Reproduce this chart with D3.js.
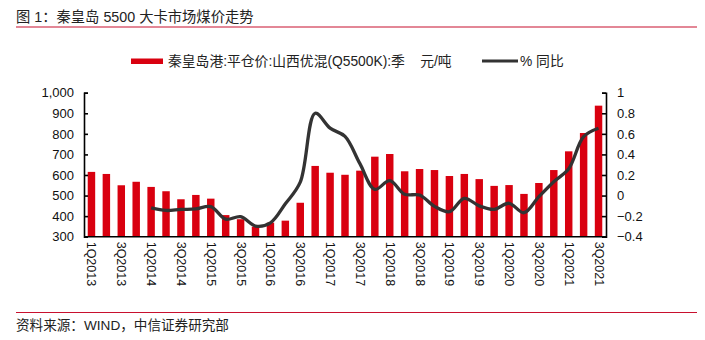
<!DOCTYPE html>
<html><head><meta charset="utf-8">
<script src="https://cdn.jsdelivr.net/npm/d3@7/dist/d3.min.js"></script>
<style>
body{margin:0;background:#fff;}
text{font-family:"Liberation Sans","Noto Sans CJK SC",sans-serif;}
</style></head>
<body><svg id="c" width="705" height="340"></svg>
<script>
const quarters = ["1Q2013","2Q2013","3Q2013","4Q2013","1Q2014","2Q2014","3Q2014","4Q2014","1Q2015","2Q2015","3Q2015","4Q2015","1Q2016","2Q2016","3Q2016","4Q2016","1Q2017","2Q2017","3Q2017","4Q2017","1Q2018","2Q2018","3Q2018","4Q2018","1Q2019","2Q2019","3Q2019","4Q2019","1Q2020","2Q2020","3Q2020","4Q2020","1Q2021","2Q2021","3Q2021"];
const price = [615,605,550,567,542,521,482,503,485,405,385,349,368,378,465,644,611,601,621,689,702,618,629,624,595,605,580,547,551,508,561,624,715,804,937];
const yoy = [null,null,null,null,-0.12,-0.145,-0.135,-0.13,-0.108,-0.23,-0.205,-0.296,-0.265,-0.08,0.13,0.80,0.655,0.575,0.31,0.06,0.145,0.012,0.005,-0.105,-0.157,-0.027,-0.10,-0.134,-0.075,-0.167,-0.011,0.135,0.26,0.572,0.654];
const xTickLabels = ["1Q2013","3Q2013","1Q2014","3Q2014","1Q2015","3Q2015","1Q2016","3Q2016","1Q2017","3Q2017","1Q2018","3Q2018","1Q2019","3Q2019","1Q2020","3Q2020","1Q2021","3Q2021"];
const leftTicks = [300,400,500,600,700,800,900,1000];
const rightTicks = [-0.4,-0.2,0,0.2,0.4,0.6,0.8,1];
const title = "图 1：秦皇岛 5500 大卡市场煤价走势";
const source = "资料来源：WIND，中信证券研究部";
const legendBar = "秦皇岛港:平仓价:山西优混(Q5500K):季    元/吨";
const legendLine = "% 同比";

const svg = d3.select("#c");
const L = 84, R = 606, T = 92.7, B = 236.7;
const red = "#d9000f", dark = "#333333";

const x = d3.scaleBand().domain(quarters).range([L, R]).paddingInner(0.5).paddingOuter(0.25);
const yL = d3.scaleLinear().domain([300, 1000]).range([B, T]);
const yR = d3.scaleLinear().domain([-0.4, 1]).range([B, T]);

// title & source
svg.append("text").attr("x", 16).attr("y", 22).attr("font-size", 14.3).attr("fill", "#222").text(title);
svg.append("line").attr("x1", 16).attr("x2", 697).attr("y1", 27).attr("y2", 27).attr("stroke", "#c8102e").attr("stroke-width", 1.2);
svg.append("line").attr("x1", 16).attr("x2", 697).attr("y1", 312.5).attr("y2", 312.5).attr("stroke", "#c8102e").attr("stroke-width", 1.2);
svg.append("text").attr("x", 16).attr("y", 330).attr("font-size", 13.6).attr("fill", "#222").text(source);

// legend
svg.append("rect").attr("x", 131).attr("y", 58.5).attr("width", 32).attr("height", 5.5).attr("fill", red);
svg.append("text").attr("x", 168).attr("y", 66).attr("font-size", 13.8).attr("fill", "#222").style("white-space", "pre").text(legendBar);
svg.append("line").attr("x1", 482).attr("x2", 518).attr("y1", 61).attr("y2", 61).attr("stroke", dark).attr("stroke-width", 3);
svg.append("text").attr("x", 520).attr("y", 66).attr("font-size", 13.8).attr("fill", "#222").text(legendLine);

// bars
svg.append("g").selectAll("rect").data(price).join("rect")
  .attr("x", (d, i) => x(quarters[i]))
  .attr("width", x.bandwidth())
  .attr("y", d => yL(d))
  .attr("height", d => B - yL(d))
  .attr("fill", red);

// line
const pts = yoy.map((d, i) => ({v: d, i})).filter(p => p.v != null);
svg.append("path").datum(pts)
  .attr("d", d3.line().x(p => x(quarters[p.i]) + x.bandwidth() / 2).y(p => yR(p.v)).curve(d3.curveCatmullRom.alpha(0.5)))
  .attr("fill", "none").attr("stroke", dark).attr("stroke-width", 3.3).attr("stroke-linejoin", "round");

// axes
const gL = svg.append("g").attr("transform", `translate(${L},0)`)
  .call(d3.axisLeft(yL).tickValues(leftTicks).tickSizeInner(-4).tickSizeOuter(-4).tickPadding(10).tickFormat(d3.format(",")));
const gR = svg.append("g").attr("transform", `translate(${R},0)`)
  .call(d3.axisRight(yR).tickValues(rightTicks).tickSizeInner(-4).tickSizeOuter(-4).tickPadding(11).tickFormat(d => d3.format("")(+d.toFixed(1))));
[gL, gR].forEach(g => {
  g.select(".domain").attr("stroke", "#000").attr("stroke-width", 1.6);
  g.selectAll(".tick line").attr("stroke", "#000").attr("stroke-width", 1.6);
  g.selectAll(".tick text").attr("font-size", 13).attr("fill", "#111").attr("font-family", "Liberation Sans, sans-serif");
});
svg.append("line").attr("x1", L).attr("x2", R).attr("y1", B).attr("y2", B).attr("stroke", "#000").attr("stroke-width", 1.6);

// x labels
svg.append("g").selectAll("text").data(xTickLabels).join("text")
  .attr("transform", d => `translate(${x(d) + x.bandwidth() / 2},${B + 5}) rotate(90)`)
  .attr("dominant-baseline", "central")
  .attr("font-size", 12.5).attr("fill", "#111")
  .text(d => d);
</script></body></html>
